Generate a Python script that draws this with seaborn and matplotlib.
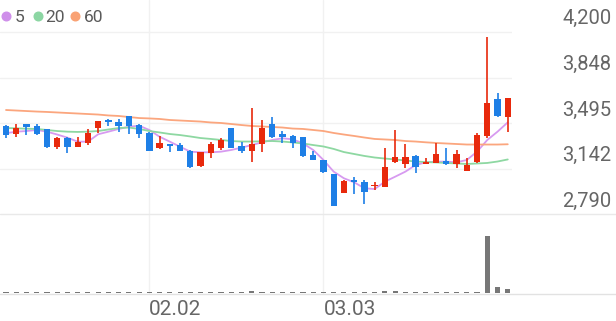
import numpy as np
import pandas as pd
import matplotlib
matplotlib.use("Agg")
import matplotlib.pyplot as plt
import matplotlib.transforms as mtransforms
from matplotlib.lines import Line2D
import seaborn as sns

# ---------------- data ----------------
open_ = [3478, 3412, 3489, 3475, 3450, 3316, 3386, 3316, 3347, 3458,
         3522, 3509, 3553, 3483, 3424, 3304, 3335, 3329, 3286, 3168,
         3265, 3309, 3458, 3322, 3283, 3335, 3489, 3414, 3399, 3389,
         3252, 3214, 3104, 2962, 3060, 3047, 3011, 3008, 3201, 3181,
         3247, 3183, 3193, 3206, 3181, 3129, 3196, 3401, 3681, 3547]
high = [3483, 3489, 3491, 3491, 3455, 3389, 3389, 3389, 3453, 3516,
        3527, 3530, 3553, 3488, 3430, 3401, 3337, 3342, 3290, 3278,
        3355, 3381, 3463, 3350, 3612, 3522, 3547, 3437, 3404, 3394,
        3283, 3216, 3104, 3060, 3085, 3060, 3042, 3309, 3445, 3335,
        3250, 3227, 3342, 3304, 3291, 3227, 3422, 4164, 3728, 3689]
low = [3383, 3393, 3406, 3406, 3304, 3298, 3265, 3312, 3330, 3420,
       3478, 3432, 3412, 3386, 3280, 3298, 3278, 3280, 3152, 3163,
       3231, 3291, 3304, 3265, 3201, 3278, 3386, 3342, 3304, 3240,
       3211, 3116, 2858, 2960, 2949, 2873, 2983, 3005, 3188, 3155,
       3111, 3180, 3190, 3178, 3155, 3127, 3190, 3386, 3543, 3432]
close = [3406, 3463, 3470, 3412, 3316, 3381, 3316, 3355, 3424, 3514,
         3509, 3478, 3478, 3412, 3283, 3342, 3324, 3283, 3158, 3273,
         3335, 3368, 3309, 3283, 3337, 3463, 3389, 3389, 3342, 3247,
         3214, 3119, 2862, 3052, 3042, 2965, 3021, 3162, 3240, 3240,
         3162, 3201, 3257, 3181, 3257, 3175, 3406, 3655, 3555, 3689]
ma5 = [3420, 3432, 3437, 3445, 3432, 3410, 3386, 3355, 3355, 3412,
       3432, 3453, 3470, 3478, 3445, 3393, 3355, 3316, 3278, 3273,
       3273, 3278, 3291, 3309, 3329, 3350, 3368, 3381, 3373, 3342,
       3291, 3214, 3124, 3073, 3042, 2996, 2990, 3047, 3085, 3124,
       3175, 3196, 3201, 3201, 3196, 3214, 3278, 3368, 3432, 3504]
ma20 = [3460, 3458, 3455, 3453, 3445, 3437, 3432, 3430, 3432, 3437,
        3449, 3460, 3464, 3453, 3437, 3426, 3414, 3406, 3395, 3383,
        3376, 3368, 3360, 3356, 3356, 3358, 3360, 3356, 3349, 3341,
        3329, 3318, 3299, 3275, 3260, 3245, 3233, 3225, 3218, 3210,
        3202, 3198, 3195, 3191, 3187, 3183, 3187, 3191, 3202, 3218]
ma60 = [3599, 3595, 3591, 3587, 3584, 3580, 3576, 3572, 3568, 3564,
        3557, 3553, 3545, 3537, 3534, 3530, 3522, 3518, 3514, 3510,
        3503, 3499, 3491, 3483, 3476, 3472, 3468, 3464, 3456, 3453,
        3445, 3437, 3422, 3410, 3399, 3387, 3376, 3372, 3368, 3360,
        3356, 3350, 3345, 3341, 3337, 3333, 3333, 3333, 3333, 3335]
volume = [80, 80, 80, 80, 80, 80, 80, 80, 80, 80,
          80, 150, 80, 80, 80, 80, 80, 80, 150, 80,
          80, 80, 80, 80, 250, 150, 80, 80, 80, 80,
          80, 80, 120, 80, 80, 80, 80, 180, 180, 80,
          80, 80, 80, 80, 80, 80, 150, 5700, 600, 400]
price_ticks = [4200, 3848, 3495, 3142, 2790]
price_tick_labels = ["4,200", "3,848", "3,495", "3,142", "2,790"]
date_tick_pos = [14, 31]
date_tick_labels = ["02.02", "03.03"]
ma_labels = ["5", "20", "60"]

# ---------------- style ----------------
sns.set_style("white")
plt.rcParams['font.family'] = ['Roboto', 'DejaVu Sans']

UP = '#E8290C'
DOWN = '#1E7FE6'
MA_COLORS = ['#D79AF0', '#8ED8A2', '#FBA67E']
LEG_COLORS = ['#CF8FEA', '#8CD6A3', '#F9A274']
GRID = '#F1F1F1'
TXT = '#666666'

W, H = 616, 321
fig = plt.figure(figsize=(W / 100, H / 100), dpi=100)


def rect(x0, y0, x1, y1):
    return [x0 / W, 1 - y1 / H, (x1 - x0) / W, (y1 - y0) / H]


ax = fig.add_axes(rect(0, 0, 512, 215))
axv = fig.add_axes(rect(0, 225, 512, 293), sharex=ax)

n = len(close)
idx = np.arange(n)
step = 10.24
ax.set_xlim(-6 / step, (512 - 6) / step)
px_price = (price_ticks[0] - price_ticks[-1]) / 183.0
ax.set_ylim(price_ticks[-1], price_ticks[0] + 32 * px_price)
axv.set_ylim(0, volume[47] * 68 / 57)

for a in (ax, axv):
    for s in a.spines.values():
        s.set_visible(False)
    a.tick_params(length=0)
    a.set_facecolor('none')

# horizontal grid
ax.set_yticks(price_ticks[:-1])
ax.set_yticklabels([])
ax.grid(axis='y', color=GRID, lw=1.0)
ax.grid(axis='x', visible=False)
axv.set_yticks([])
axv.grid(False)

# vertical date lines through both panels
vtrans = mtransforms.blended_transform_factory(ax.transData, fig.transFigure)
for p in date_tick_pos:
    fig.add_artist(Line2D([p, p], [1, 28 / H], transform=vtrans,
                          color=GRID, lw=1.0, zorder=0))

# separator and volume baseline lines across the whole width
fig.add_artist(Line2D([0, 1], [1 - 214 / H, 1 - 214 / H], transform=fig.transFigure,
                      color='#E9E9E9', lw=1.0))
fig.add_artist(Line2D([0, 1], [1 - 293.5 / H, 1 - 293.5 / H], transform=fig.transFigure,
                      color='#E2E2E2', lw=1.0))

# moving averages
df = pd.DataFrame({
    'idx': np.concatenate([idx, idx, idx]),
    'value': np.concatenate([ma5, ma20, ma60]),
    'ma': ['5'] * n + ['20'] * n + ['60'] * n,
})
sns.lineplot(data=df, x='idx', y='value', hue='ma', hue_order=ma_labels,
             palette=MA_COLORS, legend=False, ax=ax, lw=1.3, zorder=2)
ax.set_xlabel('')
ax.set_ylabel('')

# candles
o = np.array(open_); c = np.array(close)
colors = [UP if cc >= oo else DOWN for oo, cc in zip(o, c)]
ax.vlines(idx, low, high, colors=colors, lw=1.2, zorder=3)
bottom = np.minimum(o, c)
height = np.maximum(np.abs(c - o), 12)
ax.bar(idx, height, bottom=bottom, width=0.62, color=colors, zorder=4, linewidth=0)

# volume
axv.bar(idx, volume, width=0.5, color='#777777', linewidth=0, zorder=3)
axv.set_xlabel('')
axv.set_ylabel('')
axv.set_xticks(date_tick_pos)
axv.set_xticklabels(date_tick_labels, ha='left', fontsize=15, color=TXT)
axv.tick_params(axis='x', pad=5)
ax.tick_params(axis='x', labelbottom=False)

# price labels on the right
ltrans = mtransforms.blended_transform_factory(fig.transFigure, ax.transData)
off = mtransforms.ScaledTranslation(0, 8.0 / 100, fig.dpi_scale_trans)
for t, lab in zip(price_ticks, price_tick_labels):
    fig.text(611.5 / W, t, lab, transform=ltrans + off, ha='right', va='baseline',
             fontsize=14.5, color=TXT)

# legend (marker + label pairs)
leg_marker_x = [6, 37.5, 75]
leg_text_x = [14.5, 45.5, 83.5]
leg_y = 1 - 16 / H
for mx, tx, col, lab in zip(leg_marker_x, leg_text_x, LEG_COLORS, ma_labels):
    fig.add_artist(Line2D([mx / W], [leg_y], marker='o', ls='', color=col, ms=6.2,
                          transform=fig.transFigure))
    fig.text(tx / W, leg_y, lab, ha='left', va='center_baseline', fontsize=12.5,
             color='#5a5a5a')

fig.savefig('out.png', dpi=100)
